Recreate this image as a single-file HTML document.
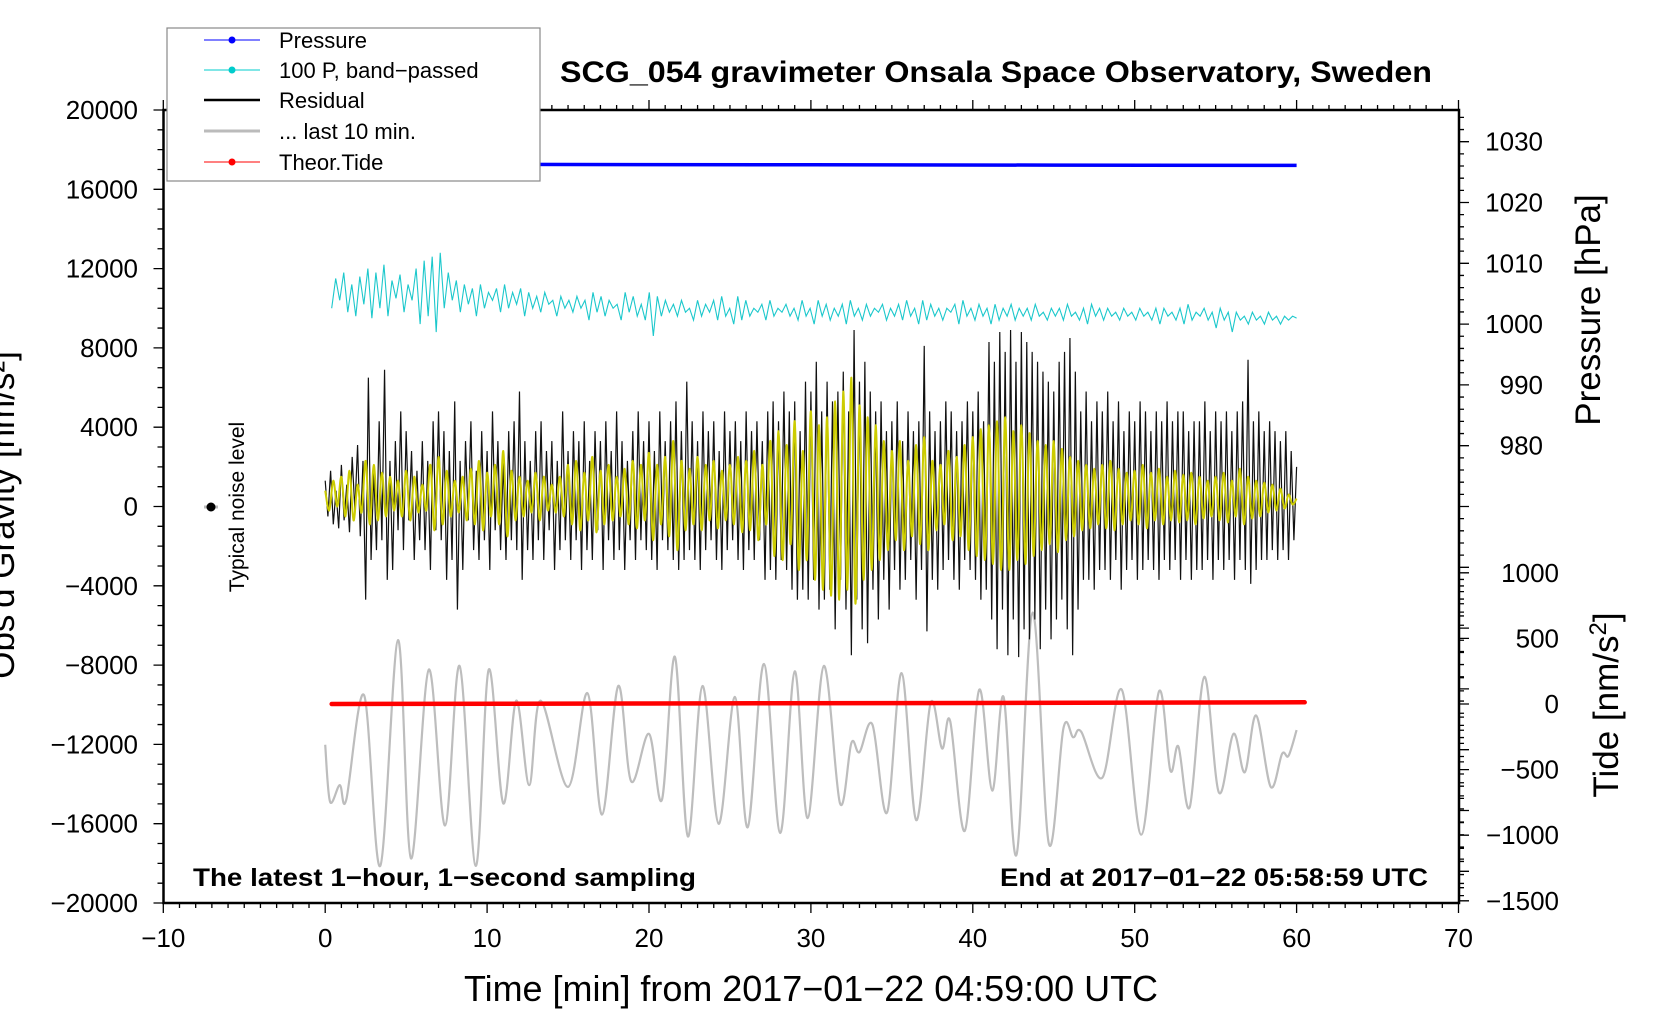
<!DOCTYPE html>
<html><head><meta charset="utf-8">
<style>
html,body{margin:0;padding:0;background:#fff;}
svg{display:block;font-family:"Liberation Sans",Arial,sans-serif;}
</style></head>
<body>
<svg id="chart" width="1660" height="1020" viewBox="0 0 1660 1020" xmlns="http://www.w3.org/2000/svg">
<rect width="1660" height="1020" fill="#fff"/>
<g id="series"></g>
<g id="axes"></g>
<text x="560" y="82" font-size="30" font-weight="bold" textLength="872" lengthAdjust="spacingAndGlyphs">SCG_054 gravimeter Onsala Space Observatory, Sweden</text>
<text x="464" y="1001" font-size="36" textLength="694" lengthAdjust="spacingAndGlyphs">Time [min] from 2017−01−22 04:59:00 UTC</text>
<text transform="translate(14,515) rotate(-90)" text-anchor="middle" font-size="35">Obs'd Gravity [nm/s²]</text>
<text transform="translate(1600,310) rotate(-90)" text-anchor="middle" font-size="35">Pressure [hPa]</text>
<text transform="translate(1618,705) rotate(-90)" text-anchor="middle" font-size="35">Tide [nm/s<tspan font-size="24" dy="-12">2</tspan><tspan dy="12">]</tspan></text>
<text x="193" y="886" font-size="25" font-weight="bold" textLength="503" lengthAdjust="spacingAndGlyphs">The latest 1−hour, 1−second sampling</text>
<text x="1000" y="886" font-size="25" font-weight="bold" textLength="428" lengthAdjust="spacingAndGlyphs">End at 2017−01−22 05:58:59 UTC</text>
<g>
<line x1="204" y1="507" x2="218" y2="507" stroke="#bbb" stroke-width="3"/>
<circle cx="211" cy="507" r="4.5" fill="#000"/>
<text transform="translate(244,507) rotate(-90)" text-anchor="middle" font-size="21">Typical noise level</text>
</g>
<g>
<rect x="167" y="28" width="373" height="153" fill="#fff" stroke="#888" stroke-width="1.2"/>
<g><line x1="204" y1="40" x2="260" y2="40" stroke="#00f" stroke-width="1"/><circle cx="232" cy="40" r="3.5" fill="#00f"/><text x="279" y="48" font-size="22">Pressure</text></g>
<g><line x1="204" y1="70" x2="260" y2="70" stroke="#0cc" stroke-width="1"/><circle cx="232" cy="70" r="3.5" fill="#0cc"/><text x="279" y="78" font-size="22">100 P, band−passed</text></g>
<g><line x1="204" y1="100" x2="260" y2="100" stroke="#000" stroke-width="2.5"/><text x="279" y="108" font-size="22">Residual</text></g>
<g><line x1="204" y1="131" x2="260" y2="131" stroke="#bbb" stroke-width="3"/><text x="279" y="139" font-size="22">... last 10 min.</text></g>
<g><line x1="204" y1="162" x2="260" y2="162" stroke="#f00" stroke-width="1"/><circle cx="232" cy="162" r="3.5" fill="#f00"/><text x="279" y="170" font-size="22">Theor.Tide</text></g>
</g>
</svg>
<script>
// ---- data (gravity values in hundreds of nm/s^2 where noted) ----
const residualHundreds = [10,-8,15,-12,5,-14,18,-10,8,-16,22,-5,
28,-18,20,-50,62,-30,15,-25,40,-20,66,-40,20,-35,30,-15,45,-25,35,-10,25,-30,15,-20,
30,-25,20,-35,40,-15,45,-20,35,-40,25,-30,50,-55,20,-35,30,-10,40,-25,15,-30,35,-20,
25,-35,45,-15,30,-25,20,-30,35,-20,40,-25,55,-40,30,-25,20,-30,35,-20,40,-30,25,-15,
30,-35,20,-25,45,-20,25,-30,35,-20,30,-35,40,-25,20,-30,35,-15,30,-35,40,-20,25,-30,
45,-25,30,-35,20,-20,35,-30,45,-20,30,-25,40,-30,25,-35,45,-20,30,-25,40,-30,50,-35,
35,-30,60,-25,40,-30,30,-35,45,-25,35,-20,40,-30,25,-35,45,-25,35,-20,40,-30,30,-35,
45,-25,35,-30,40,-20,30,-40,45,-35,50,-40,40,-30,55,-35,45,-45,50,-50,35,-45,60,-50,
55,-40,70,-55,45,-50,60,-45,50,-65,55,-40,65,-55,45,-78,86,-50,60,-65,70,-72,55,-45,
45,-60,50,-40,35,-55,40,-35,50,-45,30,-40,45,-30,35,-50,40,-35,78,-66,45,-40,35,-45,
40,-35,50,-30,45,-40,35,-45,40,-30,50,-35,45,-40,55,-50,40,-45,80,-60,70,-75,85,-55,
75,-78,86,-60,70,-79,85,-65,80,-70,75,-60,70,-75,65,-55,60,-70,55,-60,70,-50,75,-65,
82,-78,65,-55,45,-40,55,-40,40,-45,50,-35,45,-35,55,-40,40,-30,50,-45,35,-35,45,-30,
40,-40,50,-35,45,-30,35,-35,45,-40,40,-30,50,-35,40,-30,45,-40,45,-30,35,-40,40,-35,
40,-35,50,-30,35,-40,45,-30,40,-35,45,-30,35,-40,45,-30,50,-35,71,-42,40,-35,45,-30,
35,-30,40,-25,35,-30,30,-25,35,-30,25,-20,17];
const residualOffset = 3; // hundreds
const bandHundreds = [5,-5,10,-3,12,-8,15,-10,8,-6,20,-12,18,-10,14,-8,12,-5,10,-8,
15,-10,12,-6,8,-5,18,-15,22,-12,15,-8,10,-6,12,-10,16,-12,20,-15,
14,-8,18,-12,25,-18,15,-10,12,-8,10,-6,14,-10,12,-5,8,-6,12,-8,
18,-12,20,-15,14,-10,22,-16,15,-12,18,-10,12,-8,16,-12,20,-14,18,-10,
24,-20,18,-12,22,-18,30,-25,20,-15,16,-12,22,-15,18,-10,20,-14,15,-10,
18,-12,22,-16,20,-15,25,-20,18,-12,30,-28,35,-30,28,-22,40,-35,25,-30,
45,-40,38,-45,42,-48,50,-50,55,-45,62,-52,48,-40,42,-35,38,-30,30,-25,
25,-20,30,-25,20,-18,28,-22,32,-25,20,-15,18,-12,25,-20,22,-18,28,-25,
32,-28,36,-30,38,-32,40,-35,42,-35,35,-30,38,-32,34,-28,30,-25,28,-22,
30,-26,26,-20,22,-18,20,-15,18,-14,16,-12,18,-14,20,-15,16,-12,14,-10,
15,-12,18,-14,14,-10,16,-12,12,-10,15,-11,13,-10,14,-12,12,-9,10,-8,
12,-10,14,-11,10,-8,16,-12,12,-9,10,-8,9,-6,8,-5,6,-4,3,-2,1];
const pressureBandHundreds = [100,115,104,118,98,112,96,116,102,120,95,118,100,122,96,114,105,117,98,112,
104,120,92,124,96,126,88,128,100,118,104,114,98,112,102,110,96,112,100,108,
104,110,98,112,100,108,102,110,96,108,100,106,98,108,102,104,96,106,100,104,
98,106,100,104,94,108,98,106,96,104,100,102,94,108,98,106,96,102,94,108,
86,106,96,104,98,102,96,104,98,100,94,104,96,102,98,104,94,106,96,100,
92,106,94,104,96,100,98,102,94,104,96,100,98,102,96,100,94,104,96,100,
92,104,96,102,94,100,96,102,92,104,96,100,94,102,96,100,98,102,94,100,
96,102,94,104,96,100,92,104,94,102,96,100,94,100,98,102,92,104,96,100,
94,102,96,100,92,102,94,100,96,102,94,100,96,100,94,102,96,98,94,100,
96,100,94,102,96,98,94,100,92,102,96,100,94,100,96,98,94,100,96,98,
94,100,96,98,94,100,92,100,96,98,94,100,92,102,94,98,96,100,94,98,
90,100,94,98,88,98,94,96,92,98,94,96,92,98,94,96,92,96,94,96,95];
const last10Times = [0,0.3,0.9,1.3,2.4,3.4,4.5,5.3,6.4,7.4,8.3,9.3,10.1,11.0,11.8,12.6,13.3,15.0,16.2,17.1,18.1,18.9,20.0,20.8,21.6,22.4,23.3,24.3,25.3,26.1,27.1,28.1,29.0,29.8,30.8,31.8,32.5,33.0,33.8,34.7,35.6,36.5,37.4,38.1,38.6,39.5,40.4,41.2,41.9,42.7,43.7,44.7,45.6,46.2,46.7,48.0,49.2,50.4,51.5,52.2,52.7,53.4,54.3,55.2,56.1,56.8,57.5,58.4,59.1,59.5,60.0];
const last10Values = [-12017,-14891,-14054,-14792,-9516,-18130,-6740,-17755,-8227,-16092,-8040,-18130,-8227,-14980,-9791,-14054,-9791,-14142,-9417,-15541,-9053,-13867,-11466,-14792,-7577,-16643,-9053,-16004,-9604,-16180,-7941,-16467,-8315,-15717,-8040,-14980,-11928,-12391,-11003,-15442,-8403,-15816,-9890,-12204,-10816,-16367,-9240,-14330,-9604,-17568,-5352,-17017,-11179,-11642,-11366,-13680,-9240,-16555,-9329,-13316,-12105,-15167,-8591,-14429,-11466,-13404,-10540,-14142,-12479,-12578,-11278];
const pressureTimes = [0,15,30,45,60];
const pressureValues = [1026.3,1026.25,1026.2,1026.15,1026.1];
const tideTimes = [0.4,20,40,60.5];
const tideValues = [0,4,8,13];
const xTicks = [-10,0,10,20,30,40,50,60,70];
const gTicks = [20000,16000,12000,8000,4000,0,-4000,-8000,-12000,-16000,-20000];
const gTickLabels = ["20000","16000","12000","8000","4000","0","−4000","−8000","−12000","−16000","−20000"];
const pTicks = [1030,1020,1010,1000,990,980];
const tTicks = [1000,500,0,-500,-1000,-1500];
const tTickLabels = ["1000","500","0","−500","−1000","−1500"];

// ---- scales ----
const L=163.5,R=1459,T=110,B=903;
const xs = t => 325.2 + 16.19*t;
const gy = g => T + (20000-g)*(B-T)/40000;
const py = p => 141.7 + (1030-p)*6.08;
const ty = v => 704 - v*0.1312;

const NS="http://www.w3.org/2000/svg";
const series=document.getElementById('series');
const axes=document.getElementById('axes');
function mk(tag,attrs,parent){const e=document.createElementNS(NS,tag);for(const k in attrs)e.setAttribute(k,attrs[k]);parent.appendChild(e);return e;}
function poly(pts){return 'M'+pts.map(p=>p[0].toFixed(2)+','+p[1].toFixed(2)).join('L');}
function smooth(pts){let d='M'+pts[0][0].toFixed(2)+','+pts[0][1].toFixed(2);
 for(let i=0;i<pts.length-1;i++){const p0=pts[Math.max(0,i-1)],p1=pts[i],p2=pts[i+1],p3=pts[Math.min(pts.length-1,i+2)];
  const c1=[p1[0]+(p2[0]-p0[0])/6,p1[1]+(p2[1]-p0[1])/6],c2=[p2[0]-(p3[0]-p1[0])/6,p2[1]-(p3[1]-p1[1])/6];
  d+='C'+c1[0].toFixed(2)+','+c1[1].toFixed(2)+' '+c2[0].toFixed(2)+','+c2[1].toFixed(2)+' '+p2[0].toFixed(2)+','+p2[1].toFixed(2);}
 return d;}

// gray last 10 min
const gPts=last10Times.map((t,i)=>[xs(t),gy(last10Values[i])]);
let e=mk('path',{d:smooth(gPts),fill:'none',stroke:'#bdbdbd','stroke-width':2.2},series);


// cyan
const cStep=60/(pressureBandHundreds.length-1);
const cPts=pressureBandHundreds.map((v,i)=>[xs(0.4+i*cStep*59.6/60),gy(v*100)]);
e=mk('path',{d:poly(cPts),fill:'none',stroke:'#1cc8cc','stroke-width':1.1},series);


// black residual
const rStep=60/(residualHundreds.length-1);
const rPts=residualHundreds.map((v,i)=>[xs(i*rStep),gy((v+residualOffset)*100)]);
e=mk('path',{d:poly(rPts),fill:'none',stroke:'#111','stroke-width':1.2,'stroke-linejoin':'miter'},series);


// yellow filtered residual
const bStep=60/(bandHundreds.length-1);
const bPts=bandHundreds.map((v,i)=>[xs(i*bStep),gy((v+residualOffset)*100)]);
e=mk('path',{d:smooth(bPts),fill:'none',stroke:'#cccc00','stroke-width':2},series);


// red tide
const tPts=tideTimes.map((t,i)=>[xs(t),ty(tideValues[i])]);
e=mk('path',{d:poly(tPts),fill:'none',stroke:'#ff0000','stroke-width':4.5,'stroke-linecap':'round'},series);


// blue pressure
const pPts=pressureTimes.map((t,i)=>[xs(t),py(pressureValues[i])]);
e=mk('path',{d:poly(pPts),fill:'none',stroke:'#0000ff','stroke-width':3.5},series);



// ---- axes ----
e=mk('rect',{x:L,y:T,width:R-L,height:B-T,fill:'none',stroke:'#000','stroke-width':2.5},axes);


let d='';
for(let t=-10;t<=70;t++){const x=xs(t),len=(t%10===0)?10:5;d+=`M${x},${B}v${len}M${x},${T}v${-len}`;}
for(let g=-20000;g<=20000;g+=1000){const y=gy(g),len=(g%4000===0)?10:6;d+=`M${L},${y}h${-len}`;}
for(let p=904;p<=1035;p+=2){const y=py(p);if(y<T||y>B)continue;const len=(p%10===0)?10:5;d+=`M${R},${y}h${len}`;}
for(let v=-1500;v<=1000;v+=100){const y=ty(v);const len=(v%500===0)?10:5;d+=`M${R},${y}h${len}`;}
e=mk('path',{d:d,stroke:'#000','stroke-width':1.3,fill:'none'},axes);


xTicks.forEach(t=>{const el=mk('text',{x:xs(t),y:947,'font-size':26,'text-anchor':'middle'},axes);el.textContent=(t<0?'−'+(-t):''+t);

});
gTicks.forEach((g,i)=>{const el=mk('text',{x:138,y:gy(g)+9,'font-size':26,'text-anchor':'end'},axes);el.textContent=gTickLabels[i];

});
pTicks.forEach(p=>{const el=mk('text',{x:1543,y:py(p)+9,'font-size':26,'text-anchor':'end'},axes);el.textContent=''+p;

});
tTicks.forEach((v,i)=>{const el=mk('text',{x:1559,y:ty(v)+9,'font-size':26,'text-anchor':'end'},axes);el.textContent=tTickLabels[i];

});
</script>
</body></html>
